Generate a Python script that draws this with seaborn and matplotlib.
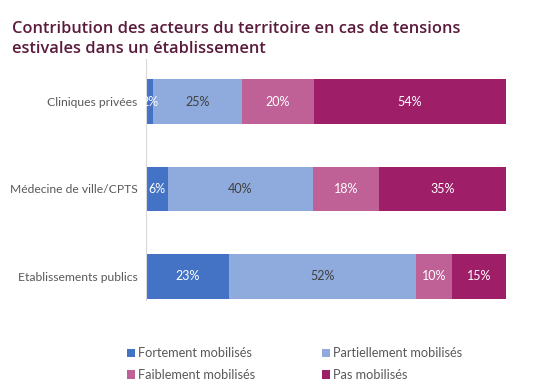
import numpy as np
import pandas as pd
import matplotlib.pyplot as plt
import seaborn as sns
from matplotlib.patches import Patch

categories = ["Cliniques privées", "Médecine de ville/CPTS", "Etablissements publics"]
series = ["Fortement mobilisés", "Partiellement mobilisés", "Faiblement mobilisés", "Pas mobilisés"]
fortement = [2, 6, 23]
partiellement = [25, 40, 52]
faiblement = [20, 18, 10]
pas = [54, 35, 15]

colors = ["#4472C4", "#8FAADC", "#BF6096", "#9E1F68"]
text_colors = ["white", "#404040", "white", "white"]

sns.set_style("white")
plt.rcParams['font.family'] = ['Lato', 'DejaVu Sans']

df = pd.DataFrame({"Catégorie": categories, series[0]: fortement, series[1]: partiellement,
                   series[2]: faiblement, series[3]: pas})
vals = df[series].to_numpy(dtype=float)
# 100% stacked: normalise each row
shares = vals / vals.sum(axis=1, keepdims=True) * 100
cum = np.cumsum(shares, axis=1)

fig = plt.figure(figsize=(5.53, 3.84), dpi=100)
ax = fig.add_axes([0.264, 0.219, 0.651, 0.627])

# draw cumulative bars from the longest to the shortest so they stack
for i in range(len(series) - 1, -1, -1):
    tmp = pd.DataFrame({"Catégorie": categories, "x": cum[:, i]})
    sns.barplot(data=tmp, y="Catégorie", x="x", color=colors[i], orient="h",
                width=0.51, ax=ax, saturation=1, edgecolor="none")

for r in range(len(categories)):
    for i in range(len(series)):
        mid = cum[r, i] - shares[r, i] / 2
        ax.text(mid, r, f"{vals[r, i]:.0f}%", ha="center", va="center",
                color=text_colors[i], fontsize=9)

ax.set_xlim(0, 100)
ax.set_ylim(2.27, -0.486)
ax.set_xlabel("")
ax.set_ylabel("")
ax.set_xticks([])
ax.tick_params(axis="y", length=0, pad=6, labelsize=8.7, labelcolor="#595959")
sns.despine(ax=ax, top=True, right=True, bottom=True, left=False)
ax.spines["left"].set_color("#D9D9D9")
ax.spines["left"].set_linewidth(0.8)

fig.text(0.022, 0.945, "Contribution des acteurs du territoire en cas de tensions\nestivales dans un établissement",
         fontsize=11.8, fontweight="semibold", color="#5B1B3C", va="top", linespacing=1.35,
         family=["Open Sans", "DejaVu Sans"])

# legend filled row by row: matplotlib fills columns first, so reorder
order = [0, 2, 1, 3]
handles = [Patch(facecolor=colors[i], edgecolor="none") for i in order]
labels = [series[i] for i in order]
fig.legend(handles, labels, loc="lower left", bbox_to_anchor=(0.208, -0.022), ncol=2,
           frameon=False, fontsize=9.2, labelcolor="#595959", handlelength=0.65,
           handleheight=0.65, handletextpad=0.25, columnspacing=5.2, labelspacing=0.75)

plt.savefig("out.png", dpi=100)
